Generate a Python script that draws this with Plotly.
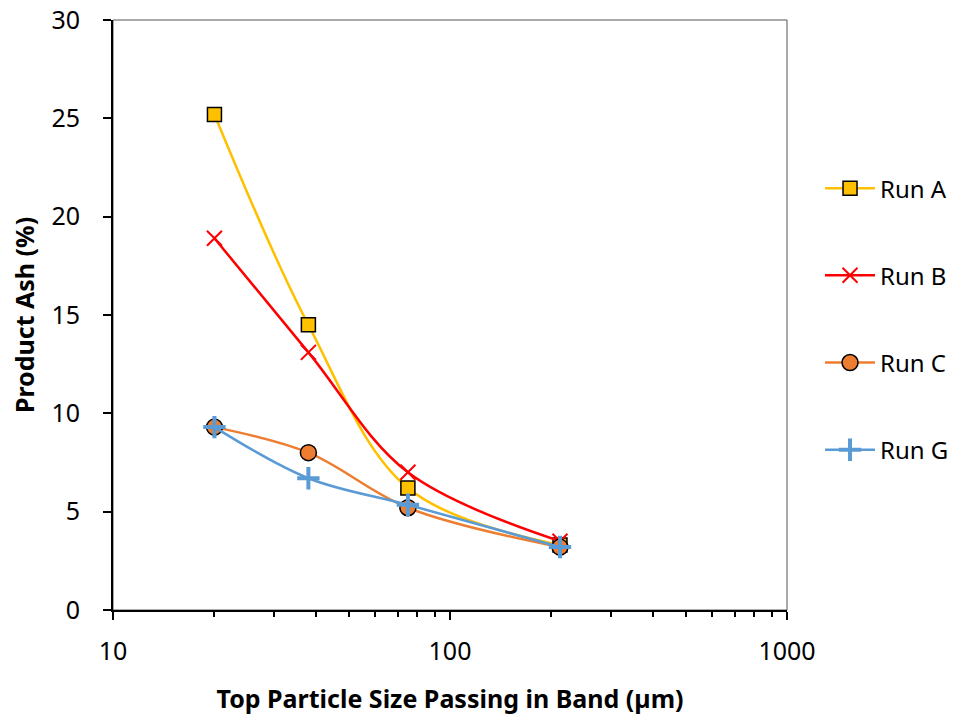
import plotly.graph_objects as go

sizes = [20, 38, 75, 212]
run_a = [25.2, 14.5, 6.2, 3.3]
run_b = [18.9, 13.1, 7.0, 3.5]
run_c = [9.3, 8.0, 5.2, 3.2]
run_g = [9.3, 6.7, 5.35, 3.2]

minor_ticks = [20, 30, 40, 50, 60, 70, 80, 90, 200, 300, 400, 500, 600, 700, 800, 900]

FONT = "Noto Sans"

fig = go.Figure()
fig.add_trace(go.Scatter(x=sizes, y=run_a, name="Run A", mode="lines+markers",
    line=dict(color="#FFC000", width=2.5, shape="spline"),
    marker=dict(symbol="square", size=14, color="#FFC000", line=dict(color="black", width=1.5))))
fig.add_trace(go.Scatter(x=sizes, y=run_b, name="Run B", mode="lines+markers",
    line=dict(color="#FF0000", width=2.5, shape="spline"),
    marker=dict(symbol="x-thin", size=15, color="#FF0000", line=dict(color="#FF0000", width=2))))
fig.add_trace(go.Scatter(x=sizes, y=run_c, name="Run C", mode="lines+markers",
    line=dict(color="#ED7D31", width=2.5, shape="spline"),
    marker=dict(symbol="circle", size=16, color="#ED7D31", line=dict(color="black", width=1.5))))
fig.add_trace(go.Scatter(x=sizes, y=run_g, name="Run G", mode="lines+markers",
    line=dict(color="#5B9BD5", width=2.5, shape="spline"),
    marker=dict(symbol="cross-thin", size=16, color="#5B9BD5", line=dict(color="#5B9BD5", width=4))))

fig.add_shape(type="rect", xref="paper", yref="paper", x0=0, y0=0, x1=1, y1=1,
              line=dict(color="#555555", width=1), layer="below")

fig.update_layout(
    width=955, height=716,
    margin=dict(l=113, r=168, t=20, b=106, autoexpand=False),
    paper_bgcolor="white", plot_bgcolor="white",
    font=dict(family=FONT, size=25, color="black"),
    showlegend=True,
    legend=dict(x=1.049, y=0.7525, xanchor="left", yanchor="top", itemwidth=50,
                font=dict(size=24), tracegroupgap=53, bgcolor="rgba(0,0,0,0)"),
    xaxis=dict(type="log", range=[1, 3], showgrid=False, zeroline=False, automargin=False,
               showline=True, linecolor="black", linewidth=2,
               ticks="outside", ticklen=8, tickwidth=1.5, tickcolor="black",
               tickvals=[10, 100, 1000], ticktext=["10", "100", "1000"],
               ticklabelstandoff=10,
               minor=dict(ticks="outside", ticklen=5, tickwidth=1.5, tickcolor="black",
                          tickvals=minor_ticks, showgrid=False),
               tickfont=dict(size=25),
               title=dict(text="<b>Top Particle Size Passing in Band (µm)</b>", font=dict(size=25), standoff=24)),
    yaxis=dict(range=[0, 30], dtick=5, showgrid=False, zeroline=False, automargin=False,
               showline=True, linecolor="black", linewidth=2,
               ticks="outside", ticklen=8, tickwidth=1.5, tickcolor="black",
               ticklabelstandoff=18,
               tickfont=dict(size=25),
               title=dict(text="<b>Product Ash (%)</b>", font=dict(size=25), standoff=10)),
)
for i, tr in enumerate(fig.data):
    tr.legendgroup = "g%d" % i

fig.write_html("out.html")
